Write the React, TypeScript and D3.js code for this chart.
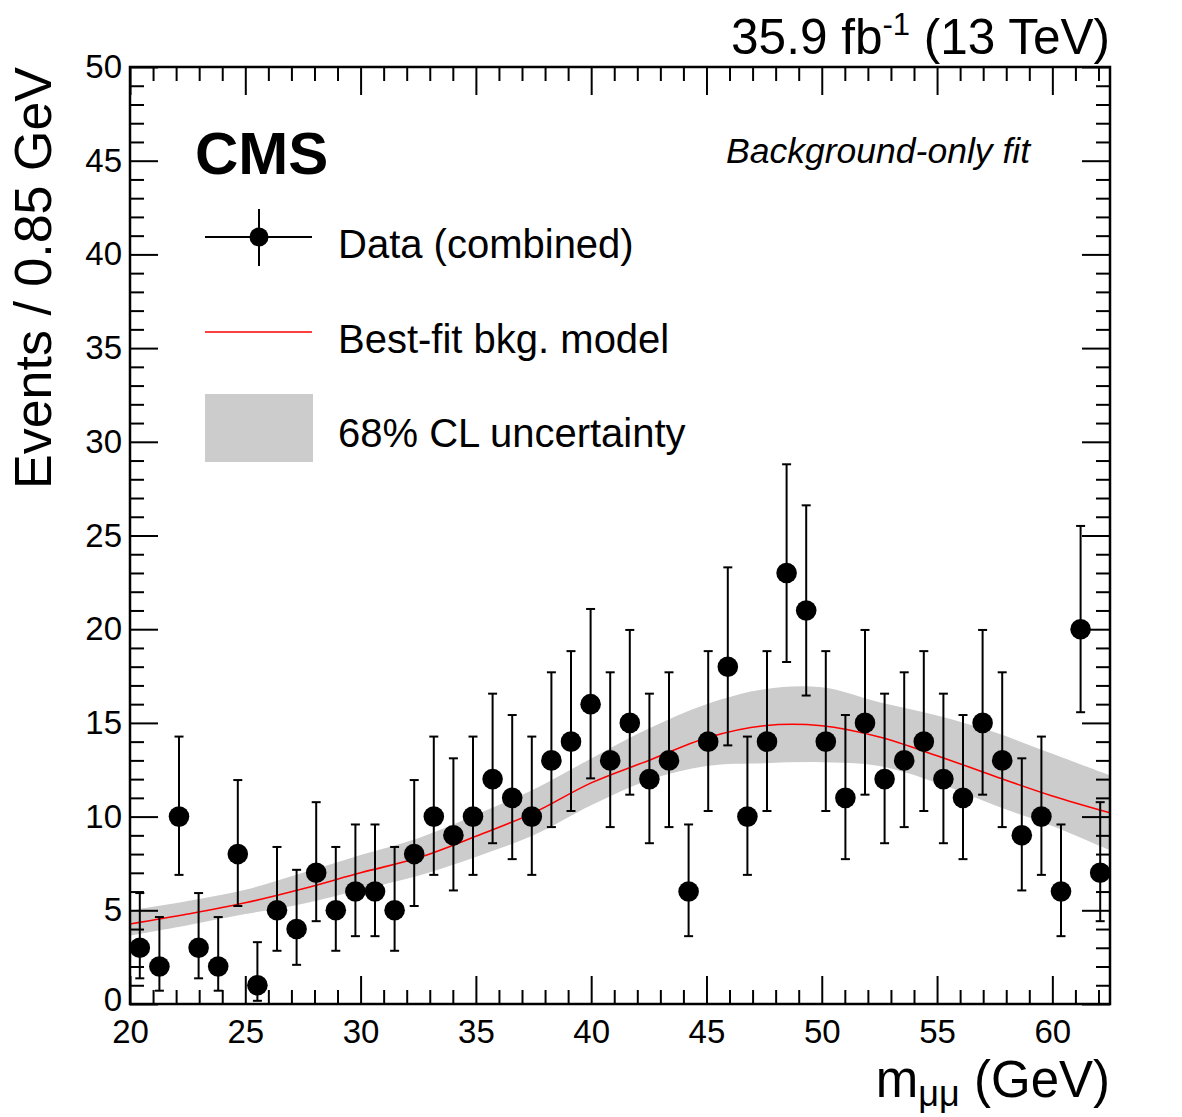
import React, { useEffect, useRef } from 'react';
import * as d3 from 'd3';

// dimuon mass spectrum, 0.85 GeV bins from 20 GeV
const binLow = 20;
const binWidth = 0.85;
const eventCounts = [
  3, 2, 10, 3, 2, 8, 1, 5, 4, 7,
  5, 6, 6, 5, 8, 10, 9, 10, 12, 11,
  10, 13, 14, 16, 13, 15, 12, 13, 6, 14,
  18, 10, 14, 23, 21, 14, 11, 15, 12, 13,
  14, 12, 11, 15, 13, 9, 10, 6, 20, 7,
];
// 68% Poisson interval bounds for each bin
const countLow = [
  1.37, 0.71, 6.89, 1.37, 0.71, 5.23, 0.17, 2.84, 2.09, 4.42,
  2.84, 3.62, 3.62, 2.84, 5.23, 6.89, 6.06, 6.89, 8.58, 7.73,
  6.89, 9.44, 10.3, 12.04, 9.44, 11.17, 8.58, 9.44, 3.62, 10.3,
  13.8, 6.89, 10.3, 18.25, 16.46, 10.3, 7.73, 11.17, 8.58, 9.44,
  10.3, 8.58, 7.73, 11.17, 9.44, 6.06, 6.89, 3.62, 15.57, 4.42,
];
const countHigh = [
  5.92, 4.64, 14.27, 5.92, 4.64, 11.95, 3.3, 8.38, 7.16, 10.77,
  8.38, 9.58, 9.58, 8.38, 11.95, 14.27, 13.11, 14.27, 16.56, 15.42,
  14.27, 17.7, 18.83, 21.08, 17.7, 19.96, 16.56, 17.7, 9.58, 18.83,
  23.3, 14.27, 18.83, 28.8, 26.61, 18.83, 15.42, 19.96, 16.56, 17.7,
  18.83, 16.56, 15.42, 19.96, 17.7, 13.11, 14.27, 9.58, 25.51, 10.77,
];

// background model sampled every 2.5 GeV
const modelMass = [20, 22.5, 25, 27.5, 30, 32.5, 35, 37.5, 40, 42.5, 45, 47.5, 50, 52.5, 55, 57.5, 60, 62.5];
const modelFit = [4.27, 4.8, 5.4, 6.15, 7.0, 7.8, 8.95, 10.2, 11.8, 13.0, 14.2, 14.85, 14.85, 14.25, 13.25, 12.15, 11.1, 10.2];
const modelLow = [3.65, 4.2, 4.8, 5.35, 6.1, 6.85, 7.85, 9.0, 10.6, 11.95, 12.7, 12.85, 12.9, 12.7, 11.8, 10.6, 9.5, 8.2];
const modelHigh = [5.0, 5.5, 6.1, 7.0, 7.95, 8.85, 10.1, 11.45, 13.1, 14.7, 16.0, 16.8, 16.9, 16.1, 15.4, 14.5, 13.35, 12.2];

const xMajor = [20, 25, 30, 35, 40, 45, 50, 55, 60];
const yMajor = [0, 5, 10, 15, 20, 25, 30, 35, 40, 45, 50];

const FONT = '"Liberation Sans", Arial, Helvetica, sans-serif';

function App() {
  const svgRef = useRef(null);

  useEffect(() => {
    const width = 1182;
    const height = 1117;
    const frame = { left: 130, right: 1110, top: 67, bottom: 1004 };

    const svg = d3.select(svgRef.current);
    svg.selectAll('*').remove();
    svg.attr('width', width).attr('height', height).style('font-family', FONT);

    const x = d3.scaleLinear().domain([20, 62.5]).range([frame.left, frame.right]);
    const y = d3.scaleLinear().domain([0, 50]).range([frame.bottom, frame.top]);

    svg.append('rect').attr('width', width).attr('height', height).attr('fill', 'white');

    svg.append('clipPath').attr('id', 'plot-clip')
      .append('rect')
      .attr('x', frame.left).attr('y', frame.top)
      .attr('width', frame.right - frame.left).attr('height', frame.bottom - frame.top);

    const plot = svg.append('g').attr('clip-path', 'url(#plot-clip)');

    const model = modelMass.map((m, i) => ({ m, fit: modelFit[i], lo: modelLow[i], hi: modelHigh[i] }));
    const smooth = d3.curveCatmullRom.alpha(0.5);

    const band = d3.area()
      .x(d => x(d.m))
      .y0(d => y(d.lo))
      .y1(d => y(d.hi))
      .curve(smooth);

    plot.append('path').datum(model).attr('fill', '#cccccc').attr('d', band);

    const fitLine = d3.line()
      .x(d => x(d.m))
      .y(d => y(d.fit))
      .curve(smooth);

    plot.append('path').datum(model)
      .attr('fill', 'none').attr('stroke', '#ff0000').attr('stroke-width', 1.6)
      .attr('d', fitLine);

    // data points with error bars
    const points = eventCounts.map((n, i) => ({
      m: binLow + binWidth * (i + 0.5),
      n,
      lo: countLow[i],
      hi: countHigh[i],
    }));

    const pts = plot.append('g').selectAll('g').data(points).enter().append('g');
    pts.append('line')
      .attr('x1', d => x(d.m)).attr('x2', d => x(d.m))
      .attr('y1', d => y(d.lo)).attr('y2', d => y(d.hi))
      .attr('stroke', 'black').attr('stroke-width', 2);
    pts.append('line')
      .attr('x1', d => x(d.m) - 4.5).attr('x2', d => x(d.m) + 4.5)
      .attr('y1', d => y(d.hi)).attr('y2', d => y(d.hi))
      .attr('stroke', 'black').attr('stroke-width', 2);
    pts.append('line')
      .attr('x1', d => x(d.m) - 4.5).attr('x2', d => x(d.m) + 4.5)
      .attr('y1', d => y(d.lo)).attr('y2', d => y(d.lo))
      .attr('stroke', 'black').attr('stroke-width', 2);
    pts.append('circle')
      .attr('cx', d => x(d.m)).attr('cy', d => y(d.n))
      .attr('r', 10.3).attr('fill', 'black');

    // axes with inward ticks on all four sides
    const xMinor = d3.range(21, 63).filter(v => v % 5 !== 0);
    const yMinor = d3.range(1, 50).filter(v => v % 5 !== 0);

    const styleAxis = g => {
      g.select('.domain').remove();
      g.selectAll('line').attr('stroke', 'black').attr('stroke-width', 2);
      g.selectAll('text').attr('fill', 'black').style('font-size', '33px').style('font-family', FONT);
    };

    svg.append('g').attr('transform', `translate(0,${frame.bottom})`)
      .call(d3.axisBottom(x).tickValues(xMajor).tickSize(-28).tickPadding(16).tickFormat(d3.format('d')))
      .call(styleAxis);
    svg.append('g').attr('transform', `translate(0,${frame.bottom})`)
      .call(d3.axisBottom(x).tickValues(xMinor).tickSize(-14).tickFormat(() => ''))
      .call(styleAxis);
    svg.append('g').attr('transform', `translate(0,${frame.top})`)
      .call(d3.axisTop(x).tickValues(xMajor).tickSize(-28).tickFormat(() => ''))
      .call(styleAxis);
    svg.append('g').attr('transform', `translate(0,${frame.top})`)
      .call(d3.axisTop(x).tickValues(xMinor).tickSize(-14).tickFormat(() => ''))
      .call(styleAxis);

    const yLabels = svg.append('g').attr('transform', `translate(${frame.left},0)`)
      .call(d3.axisLeft(y).tickValues(yMajor).tickSize(-28).tickPadding(8).tickFormat(d3.format('d')))
      .call(styleAxis);
    // lift the zero a touch so it clears the first mass label
    yLabels.selectAll('text').filter(d => d === 0).attr('dy', '0.2em');
    svg.append('g').attr('transform', `translate(${frame.left},0)`)
      .call(d3.axisLeft(y).tickValues(yMinor).tickSize(-14).tickFormat(() => ''))
      .call(styleAxis);
    svg.append('g').attr('transform', `translate(${frame.right},0)`)
      .call(d3.axisRight(y).tickValues(yMajor).tickSize(-28).tickFormat(() => ''))
      .call(styleAxis);
    svg.append('g').attr('transform', `translate(${frame.right},0)`)
      .call(d3.axisRight(y).tickValues(yMinor).tickSize(-14).tickFormat(() => ''))
      .call(styleAxis);

    svg.append('rect')
      .attr('x', frame.left).attr('y', frame.top)
      .attr('width', frame.right - frame.left).attr('height', frame.bottom - frame.top)
      .attr('fill', 'none').attr('stroke', 'black').attr('stroke-width', 2.5);

    // axis titles
    const xTitle = svg.append('text')
      .attr('x', frame.right).attr('y', 1097)
      .attr('text-anchor', 'end').style('font-size', '51px');
    xTitle.append('tspan').text('m');
    xTitle.append('tspan').attr('dy', 9).style('font-size', '36px').text('μμ');
    xTitle.append('tspan').attr('dy', -9).text(' (GeV)');

    svg.append('text')
      .attr('transform', `translate(51,${frame.top}) rotate(-90)`)
      .attr('text-anchor', 'end').style('font-size', '52px')
      .text('Events / 0.85 GeV');

    const lumi = svg.append('text')
      .attr('x', frame.right).attr('y', 54)
      .attr('text-anchor', 'end').style('font-size', '49.5px');
    lumi.append('tspan').text('35.9 fb');
    lumi.append('tspan').attr('dy', -19).style('font-size', '31px').text('-1');
    lumi.append('tspan').attr('dy', 19).text(' (13 TeV)');

    svg.append('text')
      .attr('x', 195).attr('y', 174)
      .style('font-size', '60px').style('font-weight', 'bold')
      .text('CMS');

    svg.append('text')
      .attr('x', 1030).attr('y', 163)
      .attr('text-anchor', 'end').style('font-size', '35.5px').style('font-style', 'italic')
      .text('Background-only fit');

    // legend
    const legend = svg.append('g');
    legend.append('line').attr('x1', 205).attr('x2', 312).attr('y1', 237).attr('y2', 237)
      .attr('stroke', 'black').attr('stroke-width', 2);
    legend.append('line').attr('x1', 259).attr('x2', 259).attr('y1', 209).attr('y2', 266)
      .attr('stroke', 'black').attr('stroke-width', 2);
    legend.append('circle').attr('cx', 259).attr('cy', 237).attr('r', 9.5).attr('fill', 'black');
    legend.append('text').attr('x', 338).attr('y', 258).style('font-size', '40px').text('Data (combined)');

    legend.append('line').attr('x1', 205).attr('x2', 312).attr('y1', 332).attr('y2', 332)
      .attr('stroke', '#ff0000').attr('stroke-width', 1.6);
    legend.append('text').attr('x', 338).attr('y', 353).style('font-size', '40px').text('Best-fit bkg. model');

    legend.append('rect').attr('x', 205).attr('y', 394).attr('width', 108).attr('height', 68)
      .attr('fill', '#cccccc');
    legend.append('text').attr('x', 338).attr('y', 447).style('font-size', '40px').text('68% CL uncertainty');
  }, []);

  return (
    <svg
      ref={svgRef}
      style={{ position: 'absolute', left: 0, top: 0, display: 'block' }}
    />
  );
}

export default App;
